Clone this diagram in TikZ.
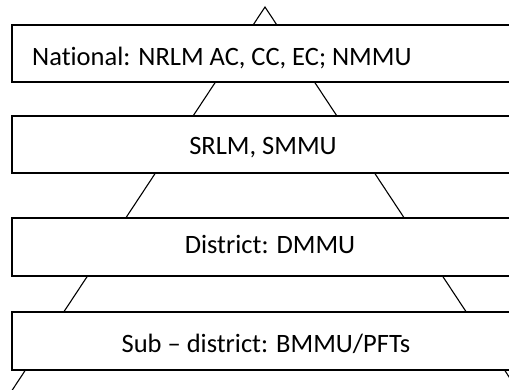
\documentclass[tikz,border=0pt]{standalone}
\usepackage{fontspec}
\setmainfont[Ligatures=NoCommon]{Carlito}
\begin{document}
\begin{tikzpicture}[x=1pt,y=1pt,
  levelbox/.style={draw=black, line width=1.6pt, fill=white, rectangle, inner sep=0pt, anchor=south west, minimum width=560pt},
  side/.style={draw=black, line width=1.1pt},
  lbl/.style={inner sep=0pt, font=\fontsize{26.5}{32}\selectfont}]
\useasboundingbox (0,0) rectangle (509,389);
\coordinate (apex) at (265,382);
\coordinate (bl) at (7,-9);
\coordinate (br) at (523,-9);
\draw[side] (bl) -- (apex) -- (br);
\node[levelbox, minimum height=57pt] (b1) at (11,306) {};
\node[levelbox, minimum height=57pt] (b2) at (11,215) {};
\node[levelbox, minimum height=58pt] (b3) at (11,112) {};
\node[levelbox, minimum height=58pt] (b4) at (11,18) {};
\node[lbl, anchor=base west] (t1) at (32,323) {National: NRLM AC, CC, EC; NMMU};
\node[lbl, anchor=base] (t2) at (263,234) {SRLM, SMMU};
\node[lbl, anchor=base] (t3) at (270,136) {District: DMMU};
\node[lbl, anchor=base] (t4) at (266,36.5) {Sub – district: BMMU/PFTs};
\end{tikzpicture}
\end{document}
